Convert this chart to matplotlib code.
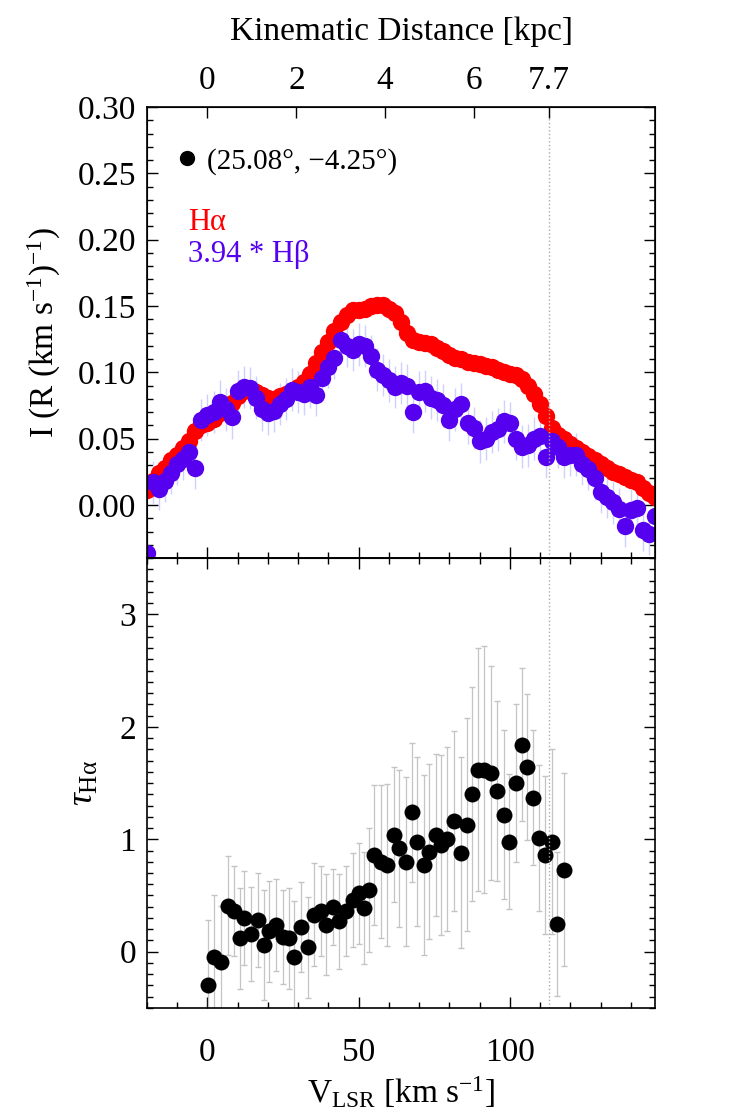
import numpy as np
import matplotlib
matplotlib.use('Agg')
import matplotlib.pyplot as plt
from matplotlib.ticker import MultipleLocator, NullLocator, FormatStrFormatter
from matplotlib.lines import Line2D

plt.rcParams['font.family'] = ['Liberation Serif', 'DejaVu Serif']
plt.rcParams['mathtext.fontset'] = 'custom'
plt.rcParams['mathtext.rm'] = 'Liberation Serif'
plt.rcParams['mathtext.it'] = 'Liberation Serif:italic'
plt.rcParams['mathtext.bf'] = 'Liberation Serif:bold'

# velocity grid of the spectra (km/s)
vel = np.arange(-20, 149, 2)

# H-alpha intensity, R (km/s)^-1
halpha = [0.011, 0.018, 0.024, 0.028, 0.034, 0.038, 0.043, 0.048, 0.056, 0.060,
          0.062, 0.065, 0.069, 0.073, 0.077, 0.082, 0.086, 0.087, 0.085, 0.083,
          0.081, 0.080, 0.082, 0.084, 0.086, 0.089, 0.093, 0.099, 0.107, 0.115,
          0.123, 0.131, 0.138, 0.143, 0.147, 0.147, 0.148, 0.150, 0.151, 0.151,
          0.148, 0.145, 0.138, 0.130, 0.124, 0.123, 0.122, 0.121, 0.118, 0.116,
          0.113, 0.111, 0.110, 0.108, 0.107, 0.106, 0.105, 0.104, 0.102, 0.100,
          0.099, 0.098, 0.095, 0.090, 0.084, 0.076, 0.067, 0.058, 0.053, 0.050,
          0.046, 0.043, 0.040, 0.037, 0.034, 0.031, 0.028, 0.025, 0.023, 0.021,
          0.019, 0.017, 0.013, 0.009, 0.006]

# 3.94 * H-beta intensity
hbeta = [-0.036, 0.017, 0.012, 0.018, 0.024, 0.031, 0.035, 0.040, 0.028, 0.064,
         0.068, 0.070, 0.078, 0.072, 0.066, 0.086, 0.089, 0.088, 0.081, 0.072,
         0.069, 0.071, 0.076, 0.080, 0.087, 0.085, 0.084, 0.089, 0.083, 0.096,
         0.104, 0.111, 0.124, 0.120, 0.117, 0.121, 0.120, 0.112, 0.102, 0.098,
         0.094, 0.089, 0.092, 0.090, 0.070, 0.085, 0.086, 0.081, 0.079, 0.075,
         0.064, 0.072, 0.076, 0.062, 0.058, 0.048, 0.050, 0.055, 0.057, 0.063,
         0.062, 0.050, 0.044, 0.045, 0.050, 0.052, 0.036, 0.048, 0.044, 0.036,
         0.038, 0.038, 0.031, 0.027, 0.020, 0.010, 0.006, 0.002, -0.003, -0.016,
         -0.004, -0.002, -0.019, -0.022, -0.008]

halpha_err = 0.005
hbeta_err = 0.016

# optical depth
tau_vel = [0.1, 2.3, 4.5, 6.7, 8.9, 10.6, 12.2, 14.4, 16.6, 18.8,
           20.5, 22.7, 24.9, 27.1, 28.7, 30.9, 33.1, 35.3, 37.5, 39.2,
           41.4, 43.6, 45.8, 48.0, 50.2, 51.8, 53.5, 55.1, 57.3, 59.5,
           61.7, 63.4, 65.6, 67.6, 69.4, 71.6, 73.3, 75.5, 77.1, 79.3,
           81.5, 83.7, 85.9, 87.6, 89.5, 91.4, 93.6, 95.8, 98.0, 99.7,
           101.9, 103.9, 105.7, 107.7, 109.6, 111.6, 113.8, 115.6, 117.8]
tau = [-0.30, -0.05, -0.09, 0.41, 0.36, 0.12, 0.30, 0.16, 0.28, 0.06,
       0.18, 0.24, 0.13, 0.12, -0.05, 0.22, 0.04, 0.33, 0.36, 0.24,
       0.40, 0.27, 0.36, 0.46, 0.52, 0.39, 0.55, 0.86, 0.80, 0.77,
       1.04, 0.92, 0.80, 1.24, 0.98, 0.77, 0.89, 1.04, 0.95, 1.00,
       1.16, 0.88, 1.13, 1.40, 1.62, 1.62, 1.59, 1.43, 1.22, 0.98,
       1.50, 1.84, 1.64, 1.37, 1.01, 0.86, 0.98, 0.25, 0.73]
tau_err = [0.58, 0.55, 0.50, 0.44, 0.40, 0.45, 0.42, 0.42, 0.42, 0.49,
           0.45, 0.41, 0.42, 0.45, 0.50, 0.40, 0.45, 0.46, 0.40, 0.45,
           0.34, 0.42, 0.40, 0.42, 0.45, 0.50, 0.55, 0.62, 0.68, 0.72,
           0.60, 0.70, 0.75, 0.62, 0.75, 0.80, 0.78, 0.72, 0.80, 0.82,
           0.80, 0.85, 0.95, 0.95, 1.08, 1.10, 0.95, 0.80, 0.75, 0.60,
           0.70, 0.68, 0.65, 0.60, 0.65, 0.70, 0.82, 0.64, 0.86]

# kinematic distance axis (velocity of each labelled distance)
dist_vel = [0, 29.4, 58.7, 88.1, 113.0]
dist_labels = ['0', '2', '4', '6', '7.7']
v_tangent = 113.0

fig = plt.figure(figsize=(7.34, 11.17), dpi=100)
ax1 = fig.add_axes([0.2003, 0.5004, 0.6921, 0.4038])
ax2 = fig.add_axes([0.2003, 0.0976, 0.6921, 0.4028])

red = '#ff0000'
blue = '#5500ee'

ax1.errorbar(vel, halpha, yerr=halpha_err, fmt='none', ecolor='#ff9a9a', elinewidth=0.8)
ax1.errorbar(vel, hbeta, yerr=hbeta_err, fmt='none', ecolor='#d0d0ff', elinewidth=1.0)
ax1.plot(vel, halpha, 'o', color=red, ms=12.5, mec='none')
ax1.plot(vel, hbeta, 'o', color=blue, ms=12.5, mec='none')

ax2.errorbar(tau_vel, tau, yerr=tau_err, fmt='none', ecolor='#c4c4c4', elinewidth=0.9, capsize=2)
ax2.plot(tau_vel, tau, 'o', color='k', ms=11.5, mec='none')

for ax in (ax1, ax2):
    ax.axvline(v_tangent, color='#aaaaaa', ls=':', lw=1)
    ax.set_xlim(-20, 148)
    ax.xaxis.set_major_locator(MultipleLocator(50))
    ax.xaxis.set_minor_locator(MultipleLocator(10))
    ax.tick_params(which='both', direction='in', right=True, labelsize=24, width=1)
    ax.tick_params(which='major', length=8)
    ax.tick_params(which='minor', length=4)
    ax.tick_params(axis='y', pad=8)
    for s in ax.spines.values():
        s.set_linewidth(1.2)

ax1.set_ylim(-0.04, 0.30)
ax1.yaxis.set_major_locator(MultipleLocator(0.05))
ax1.yaxis.set_minor_locator(MultipleLocator(0.01))
ax1.yaxis.set_major_formatter(FormatStrFormatter('%.2f'))
ax1.tick_params(axis='x', which='both', top=False, labelbottom=False)

ax2.set_ylim(-0.5, 3.5)
ax2.yaxis.set_major_locator(MultipleLocator(1))
ax2.yaxis.set_minor_locator(MultipleLocator(0.1))
ax2.tick_params(axis='x', which='both', top=True, pad=21)

axt = ax1.twiny()
axt.set_xlim(ax1.get_xlim())
axt.set_xticks(dist_vel)
axt.set_xticklabels(dist_labels)
axt.xaxis.set_minor_locator(NullLocator())
axt.tick_params(direction='in', length=8, width=1, labelsize=24, pad=8)
axt.set_xlabel('Kinematic Distance [kpc]', fontsize=24, labelpad=18)

leg = ax1.legend(handles=[Line2D([], [], marker='o', ls='none', color='k', ms=10)],
                 labels=['(25.08°, −4.25°)'], loc='upper left',
                 bbox_to_anchor=(0.055, 0.91), frameon=False, fontsize=21,
                 handlelength=0.8, handletextpad=0.3, borderpad=0, borderaxespad=0)
ax1.text(0.081, 0.744, 'Hα', color=red, fontsize=22, va='center', transform=ax1.transAxes)
ax1.text(0.081, 0.672, '3.94 * Hβ', color=blue, fontsize=22, va='center', transform=ax1.transAxes)

ax1.set_ylabel(r'I (R (km s$^{-1}$)$^{-1}$)', fontsize=24)
ax1.yaxis.set_label_coords(-0.165, 0.5)
ax2.set_ylabel(r'$\tau_{\mathrm{H\alpha}}$', fontsize=26)
ax2.yaxis.set_label_coords(-0.09, 0.5)
ax2.set_xlabel(r'V$_{\mathrm{LSR}}$ [km s$^{-1}$]', fontsize=24, labelpad=5)

fig.savefig('out.png', dpi=100)
